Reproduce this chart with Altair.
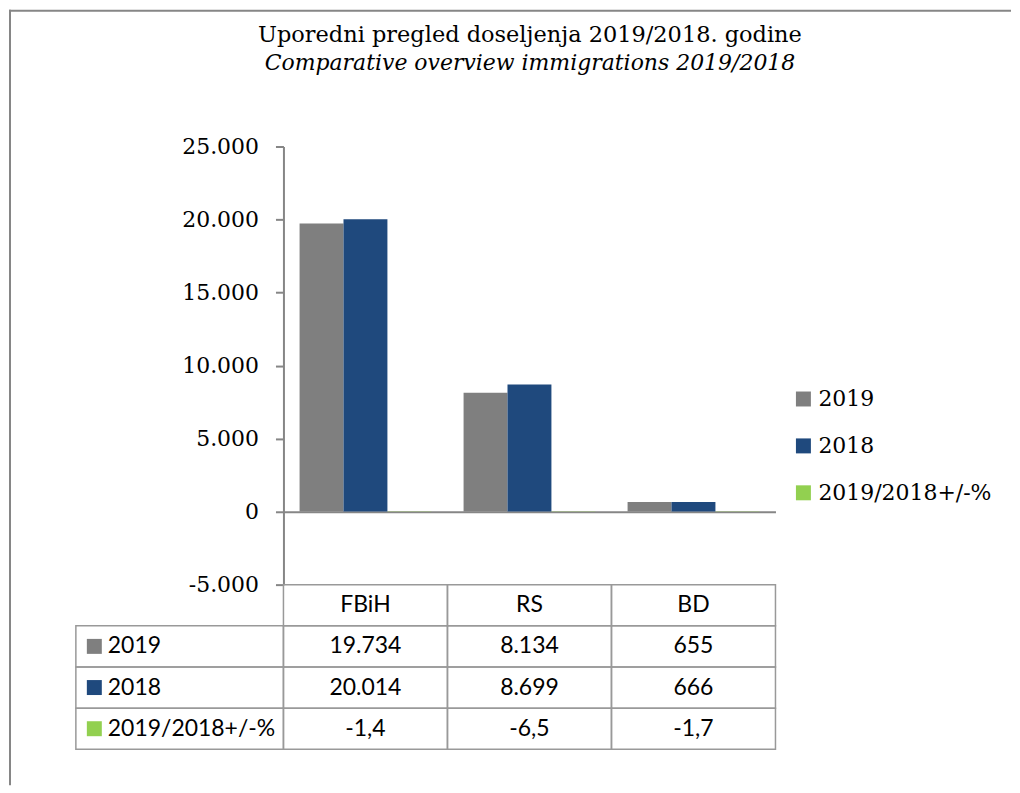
import altair as alt
import pandas as pd

# ---- data ----
categories = ["FBiH", "RS", "BD"]
series_names = ["2019", "2018", "2019/2018+/-%"]
values_2019 = [19734, 8134, 655]
values_2018 = [20014, 8699, 666]
values_pct = [-1.4, -6.5, -1.7]
colors = ["#7f7f7f", "#1f497d", "#92d050"]
y_ticks = [-5000, 0, 5000, 10000, 15000, 20000, 25000]
title_line1 = "Uporedni pregled doseljenja 2019/2018. godine"
title_line2 = "Comparative overview immigrations 2019/2018"


def fmt_int(v):
    return f"{v:,}".replace(",", ".")


def fmt_pct(v):
    return f"{v:.1f}".replace(".", ",")


rows = []
for s, vals in zip(series_names, [values_2019, values_2018, values_pct]):
    for c, v in zip(categories, vals):
        rows.append({
            "cat": c, "series": s, "value": v,
            "label": fmt_pct(v) if s == series_names[2] else fmt_int(v),
        })
df = pd.DataFrame(rows)
header_df = pd.DataFrame({"cat": categories, "row": ["hdr"] * len(categories)})
rowlab_df = pd.DataFrame({"col": ["lbl"] * len(series_names), "series": series_names})
one = pd.DataFrame({"a": [0]})

# ---- layout constants ----
W, H = 701, 604
LEFT = 208
PLOT_H = 439
GRID = "#999999"
AXC = "#868686"
SERIF = "DejaVu Serif"
SANS = "Lato"
row_domain = ["hdr"] + series_names


def x_cat():
    return alt.Scale(type="band", domain=categories, range=[LEFT, W], paddingInner=0, paddingOuter=0)


def y_row():
    return alt.Scale(type="band", domain=row_domain, range=[PLOT_H, H], paddingInner=0, paddingOuter=0)


def x_lbl():
    return alt.Scale(type="band", domain=["lbl"], range=[0, LEFT], paddingInner=0, paddingOuter=0)


def color_scale():
    return alt.Scale(domain=series_names, range=colors)


y_val = alt.Scale(domain=[-5000, 25000], range=[PLOT_H, 0], nice=False, zero=False)

bars = alt.Chart(df).mark_bar().encode(
    x=alt.X("cat:N", scale=x_cat(),
            axis=alt.Axis(orient="top", offset=-366, labels=False, ticks=False, title=None,
                          domainColor=AXC, domainWidth=2, grid=False)),
    xOffset=alt.XOffset("series:N", scale=alt.Scale(domain=series_names, paddingOuter=0.367, paddingInner=0)),
    y=alt.Y("value:Q", scale=y_val,
            axis=alt.Axis(values=y_ticks, title=None, grid=False, offset=-LEFT,
                          labelExpr="replace(replace(format(datum.value, ','), ',', '.'), '\u2212', '-')",
                          labelFont=SERIF, labelFontSize=22, labelColor="black", labelPadding=17,
                          tickSize=8, tickWidth=2, tickColor=AXC, domainColor=AXC, domainWidth=2)),
    color=alt.Color("series:N", scale=color_scale(),
                    legend=alt.Legend(title=None, orient="none", legendX=718, legendY=242, padding=0,
                                      symbolType="square", symbolSize=225, symbolStrokeWidth=0,
                                      labelFont=SERIF, labelFontSize=22, labelColor="black",
                                      labelLimit=400, rowPadding=25, labelOffset=4)),
)

header_cells = alt.Chart(header_df).mark_rect(fillOpacity=0, stroke=GRID, strokeWidth=1.5).encode(
    x=alt.X("cat:N", scale=x_cat(), axis=None),
    y=alt.Y("row:N", scale=y_row(), axis=None),
)
header_text = alt.Chart(header_df).mark_text(font=SANS, fontSize=23, color="black", align="center", baseline="middle").encode(
    x=alt.X("cat:N", scale=x_cat(), axis=None, bandPosition=0.5),
    y=alt.Y("row:N", scale=y_row(), axis=None, bandPosition=0.5),
    text="cat:N",
)
value_cells = alt.Chart(df).mark_rect(fillOpacity=0, stroke=GRID, strokeWidth=1.5).encode(
    x=alt.X("cat:N", scale=x_cat(), axis=None),
    y=alt.Y("series:N", scale=y_row(), axis=None),
)
value_text = alt.Chart(df).mark_text(font=SANS, fontSize=23, color="black", align="center", baseline="middle").encode(
    x=alt.X("cat:N", scale=x_cat(), axis=None, bandPosition=0.5),
    y=alt.Y("series:N", scale=y_row(), axis=None, bandPosition=0.5),
    text="label:N",
)
label_cells = alt.Chart(rowlab_df).mark_rect(fillOpacity=0, stroke=GRID, strokeWidth=1.5).encode(
    x=alt.X("col:N", scale=x_lbl(), axis=None),
    y=alt.Y("series:N", scale=y_row(), axis=None),
)
label_text = alt.Chart(rowlab_df).mark_text(font=SANS, fontSize=23, color="black", align="left", baseline="middle", dx=32).encode(
    x=alt.X("col:N", scale=x_lbl(), axis=None, bandPosition=0),
    y=alt.Y("series:N", scale=y_row(), axis=None, bandPosition=0.5),
    text="series:N",
)
label_keys = alt.Chart(rowlab_df).mark_square(size=225, opacity=1, xOffset=18.5, strokeWidth=0).encode(
    x=alt.X("col:N", scale=x_lbl(), axis=None, bandPosition=0),
    y=alt.Y("series:N", scale=y_row(), axis=None, bandPosition=0.5),
    color=alt.Color("series:N", scale=color_scale(), legend=None),
)

border_left = alt.Chart(one).mark_rule(color=AXC, strokeWidth=2).encode(
    x=alt.value(-66), y=alt.value(-137), y2=alt.value(640))
border_top = alt.Chart(one).mark_rule(color=AXC, strokeWidth=2).encode(
    x=alt.value(-67), x2=alt.value(937), y=alt.value(-136))

chart = alt.layer(
    border_left, border_top,
    bars, header_cells, header_text, value_cells, value_text, label_cells, label_text, label_keys,
).resolve_scale(
    x="independent", y="independent", color="independent"
).properties(
    width=W, height=H, padding=0,
    title=alt.TitleParams(text=title_line1, subtitle=title_line2, anchor="middle", frame="group",
                          dx=104.5, offset=-65, font=SERIF, fontSize=22.5, fontWeight="normal", color="black",
                          subtitleFont=SERIF, subtitleFontSize=22, subtitleFontStyle="italic",
                          subtitleColor="black", subtitlePadding=6),
).configure_view(strokeWidth=0)

chart.save("out.html", embed_options={"renderer": "svg", "actions": False})
